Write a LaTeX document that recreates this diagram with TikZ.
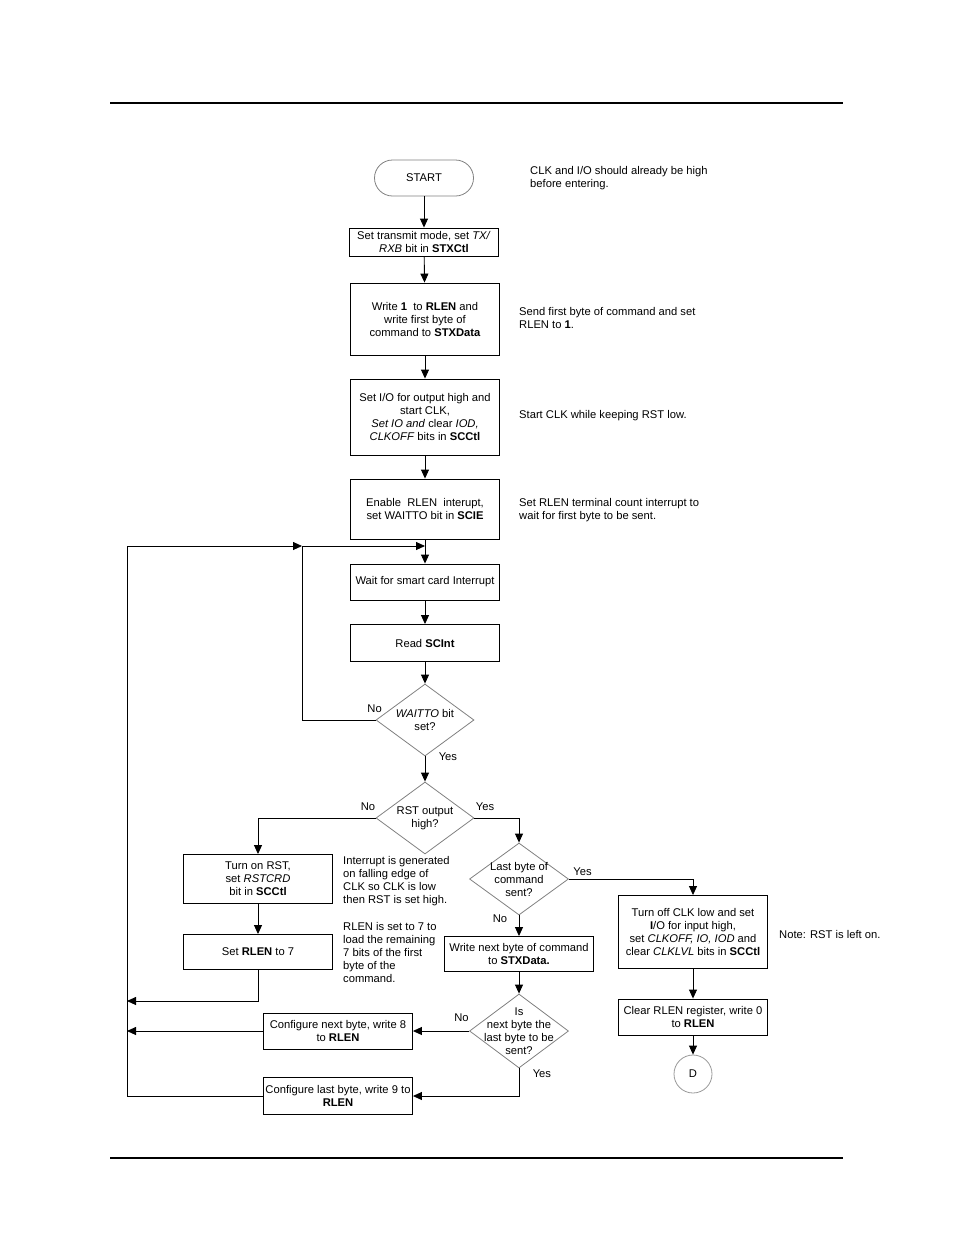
\documentclass[tikz,border=0pt]{standalone}
\usepackage{fontspec}
\setmainfont{Liberation Sans}
\usetikzlibrary{shapes.geometric, arrows.meta, positioning, calc}
\tikzset{
    block/.style={rectangle, draw, line width=0.9pt, align=center, minimum width=149pt, inner sep=1pt},
    block_round/.style={rectangle, draw=gray, line width=0.8pt, rounded corners=18pt, minimum width=99pt, minimum height=36pt},
    block_diamond/.style={diamond, draw=gray, line width=0.8pt, minimum width=98pt, minimum height=72pt, inner sep=0pt},
    block_circle/.style={circle, draw=gray!80, line width=0.8pt, minimum size=38pt, inner sep=0pt},
    diamond_text/.style={align=center, inner sep=0pt},
    note_text/.style={align=left, anchor=west, inner sep=0pt},
    arrow/.style={-{Triangle[length=9pt, width=8pt]}, line width=0.9pt},
    rule/.style={line width=1.4pt}
}
\begin{document}
\begin{tikzpicture}[x=1pt, y=-1pt, font=\fontsize{11.2}{13}\selectfont]
    \useasboundingbox (0,0) rectangle (954,1235);
    \draw [rule] (110,103) -- (843,103);
    \draw [rule] (110,1158) -- (843,1158);

    \node (start) [block_round] at (424,178) {START};
    \node (mode) [block, minimum height=28pt] at (424,242) {Set transmit mode, set \textit{TX/}\\\textit{RXB} bit in \textbf{STXCtl}};
    \node (write) [block, minimum height=72pt] at (425,319) {Write \textbf{1}\ \ to \textbf{RLEN} and\\write first byte of\\command to \textbf{STXData}};
    \node (clk) [block, minimum height=76pt] at (425,417) {Set I/O for output high and\\start CLK,\\\textit{Set IO and} clear \textit{IOD,}\\\textit{CLKOFF} bits in \textbf{SCCtl}};
    \node (enable) [block, minimum height=60pt] at (425,509) {Enable\ \ RLEN\ \ interupt,\\set WAITTO bit in \textbf{SCIE}};
    \node (wait) [block, minimum height=36pt] at (425,582) {Wait for smart card Interrupt};
    \node (read) [block, minimum height=37pt] at (425,643) {Read \textbf{SCInt}};
    \node (waitto) [block_diamond, label={[diamond_text]center:{\textit{WAITTO} bit\\set?}}] at (425,720) {};
    \node (rsthigh) [block_diamond, label={[diamond_text]center:{RST output\\high?}}] at (425,818) {};
    \node (turnon) [block, minimum height=49pt] at (258,879) {Turn on RST,\\set \textit{RSTCRD}\\bit in \textbf{SCCtl}};
    \node (set7) [block, minimum height=35pt] at (258,952) {Set \textbf{RLEN} to 7};
    \node (lastcmd) [block_diamond, minimum width=99pt, label={[diamond_text]center:{Last byte of\\command\\sent?}}] at (519,879) {};
    \node (writenext) [block, minimum height=35pt] at (519,954) {Write next byte of command\\to \textbf{STXData.}};
    \node (isnext) [block_diamond, minimum width=99pt, minimum height=74pt, label={[diamond_text]center:{Is\\next byte the\\last byte to be\\sent?}}] at (519,1031) {};
    \node (cfgnext) [block, minimum height=36pt] at (338,1031) {Configure next byte, write 8\\to \textbf{RLEN}};
    \node (cfglast) [block, minimum height=37pt] at (338,1096) {Configure last byte, write 9 to\\\textbf{RLEN}};
    \node (turnoff) [block, minimum height=73pt] at (693,932) {Turn off CLK low and set\\\textbf{I}/O for input high,\\set \textit{CLKOFF, IO, IOD} and\\clear \textit{CLKLVL} bits in \textbf{SCCtl}};
    \node (clear) [block, minimum height=36pt] at (693,1017) {Clear RLEN register, write 0\\to \textbf{RLEN}};
    \node (d) [block_circle] at (693,1074) {D};

    \node (n_start) [note_text] at (530,178) {CLK and I/O should already be high\\before entering.};
    \node (n_write) [note_text] at (519,318) {Send first byte of command and set\\RLEN to \textbf{1}.};
    \node (n_clk) [note_text] at (519,416) {Start CLK while keeping RST low.};
    \node (n_enable) [note_text] at (519,510) {Set RLEN terminal count interrupt to\\wait for first byte to be sent.};
    \node (n_rst) [note_text] at (343,881) {Interrupt is generated\\on falling edge of\\CLK so CLK is low\\then RST is set high.};
    \node (n_rlen) [note_text] at (343,952) {RLEN is set to 7 to\\load the remaining\\7 bits of the first\\byte of the\\command.};
    \node (n_off) [note_text] at (779,934) {Note: RST is left on.};

    \coordinate (merge) at (425,546);
    \coordinate (loop) at (302,546);
    \coordinate (rail) at (127,546);
    \coordinate (rail_a) at (127,1001);
    \coordinate (rail_b) at (127,1031);
    \coordinate (rail_c) at (127,1096);

    \draw [arrow] (start) -- (mode);
    \draw [arrow] (mode) -- (write);
    \draw [arrow] (write) -- (clk);
    \draw [arrow] (clk) -- (enable);
    \draw [arrow] (enable) -- (wait);
    \draw [arrow] (wait) -- (read);
    \draw [arrow] (read) -- (waitto);
    \draw [arrow] (waitto.west) node[anchor=south, inner sep=0pt, xshift=-1pt, yshift=7pt]{No} -| (loop) -- (merge);
    \draw [arrow] (waitto.south) -- node[pos=0, right=10pt]{Yes} (rsthigh);
    \draw [arrow] (rsthigh.west) node[anchor=south east, inner sep=0pt, yshift=7pt]{No} -| (turnon.north);
    \draw [arrow] (rsthigh.east) node[anchor=south west, inner sep=0pt, xshift=1pt, yshift=7pt]{Yes} -| (lastcmd.north);
    \draw [arrow] (turnon) -- (set7);
    \draw [arrow] (set7.south) |- (rail_a);
    \draw [arrow] (lastcmd.east) node[anchor=south west, inner sep=0pt, xshift=4pt, yshift=3pt]{Yes} -| (turnoff.north);
    \draw [arrow] (lastcmd) -- node[pos=0.15, left=8pt]{No} (writenext);
    \draw [arrow] (writenext) -- (isnext);
    \draw [arrow] (isnext.west) node[anchor=south east, inner sep=0pt, yshift=9pt]{No} -- (cfgnext.east);
    \draw [arrow] (isnext.south) |- node[pos=0.1, right=10pt]{Yes} (cfglast.east);
    \draw [arrow] (cfgnext) -- (rail_b);
    \draw [arrow] (cfglast.west) -- (rail_c) -- (rail) -- (loop);
    \draw [arrow] (turnoff) -- (clear);
    \draw [arrow] (clear) -- (d);
\end{tikzpicture}
\end{document}
